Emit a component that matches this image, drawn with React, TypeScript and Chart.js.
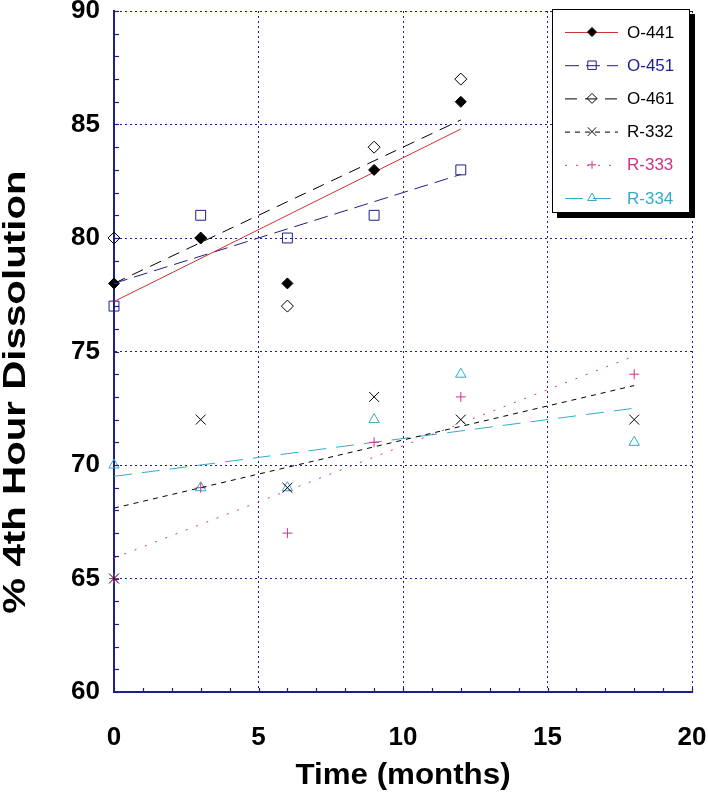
import React, { useEffect, useRef } from 'react';
import { Chart, registerables } from 'chart.js';
import { drawPoint } from 'chart.js/helpers';
Chart.register(...registerables);

// ---- data ----
const oMonths = [0, 3, 6, 9, 12];
const rMonths = [0, 3, 6, 9, 12, 18];
const o441 = [78, 80, 78, 83, 86];
const o451 = [77, 81, 80, 81, 83];
const o461 = [80, 80, 77, 84, 87];
const r332 = [65, 72, 69, 73, 72, 72];
const r333 = [65, 69, 67, 71, 73, 74];
const r334 = [70, 69, 69, 72, 74, 71];
// fitted trend lines (end points)
const oFitMonths = [0, 12];
const rFitMonths = [0, 18];
const o441Fit = [77.2, 84.8];
const o451Fit = [78.0, 82.8];
const o461Fit = [78.0, 85.2];
const r332Fit = [68.1, 73.5];
const r333Fit = [65.9, 74.8];
const r334Fit = [69.5, 72.5];
const seriesNames = ['O-441', 'O-451', 'O-461', 'R-332', 'R-333', 'R-334'];
const xTitle = 'Time (months)';
const yTitle = '% 4th Hour Dissolution';
const xRange = [0, 20];
const yRange = [60, 90];

const NAVY = '#1e1e8c';
const MAGENTA = '#cc3388';
const CYAN = '#35aacb';
const FONT = '"Liberation Sans", Arial, sans-serif';

const styles = [
  { color: '#000', line: '#cc3333', dash: [], pointStyle: 'rectRot', radius: 5.5, fill: '#000', textColor: '#000' },
  { color: NAVY, line: NAVY, dash: [14, 7], pointStyle: 'rect', radius: 7, fill: 'rgba(0,0,0,0)', textColor: NAVY },
  { color: '#000', line: '#000', dash: [12, 8], pointStyle: 'rectRot', radius: 6, fill: 'rgba(0,0,0,0)', textColor: '#000' },
  { color: '#000', line: '#000', dash: [5, 5], pointStyle: 'crossRot', radius: 7, fill: 'rgba(0,0,0,0)', textColor: '#000' },
  { color: MAGENTA, line: MAGENTA, dash: [2, 9], pointStyle: 'cross', radius: 5, fill: 'rgba(0,0,0,0)', textColor: MAGENTA },
  { color: CYAN, line: CYAN, dash: [18, 10], pointStyle: 'triangle', radius: 6, fill: 'rgba(0,0,0,0)', textColor: CYAN },
];

const pts = (xs: number[], ys: number[]) => xs.map((x, i) => ({ x, y: ys[i] }));

const seriesData = [
  pts(oMonths, o441), pts(oMonths, o451), pts(oMonths, o461),
  pts(rMonths, r332), pts(rMonths, r333), pts(rMonths, r334),
];
const fitData = [
  pts(oFitMonths, o441Fit), pts(oFitMonths, o451Fit), pts(oFitMonths, o461Fit),
  pts(rFitMonths, r332Fit), pts(rFitMonths, r333Fit), pts(rFitMonths, r334Fit),
];

const minorTicks = {
  id: 'minorTicks',
  afterDraw(chart: any) {
    const { ctx, chartArea, scales } = chart;
    ctx.save();
    ctx.strokeStyle = NAVY;
    ctx.lineWidth = 1.2;
    for (let v = yRange[0]; v <= yRange[1]; v++) {
      const y = Math.round(scales.y.getPixelForValue(v)) + 0.5;
      ctx.beginPath();
      ctx.moveTo(chartArea.left, y);
      ctx.lineTo(chartArea.left + 5, y);
      ctx.stroke();
    }
    for (let v = xRange[0]; v <= xRange[1]; v++) {
      const x = Math.round(scales.x.getPixelForValue(v)) + 0.5;
      ctx.beginPath();
      ctx.moveTo(x, chartArea.bottom);
      ctx.lineTo(x, chartArea.bottom - 4);
      ctx.stroke();
    }
    ctx.restore();
  },
};

const axisTitles = {
  id: 'axisTitles',
  afterDraw(chart: any) {
    const { ctx, chartArea } = chart;
    ctx.save();
    ctx.fillStyle = '#000';
    ctx.textAlign = 'center';
    ctx.textBaseline = 'middle';
    // x title
    ctx.save();
    ctx.translate((chartArea.left + chartArea.right) / 2, 776);
    ctx.scale(1.08, 1);
    ctx.font = `bold 29px ${FONT}`;
    ctx.fillText(xTitle, 0, 0);
    ctx.restore();
    // y title
    ctx.save();
    ctx.translate(16, 392);
    ctx.rotate(-Math.PI / 2);
    ctx.scale(1.3, 1);
    ctx.font = `bold 31px ${FONT}`;
    ctx.fillText(yTitle, 0, 0);
    ctx.restore();
    ctx.restore();
  },
};

const boxLegend = {
  id: 'boxLegend',
  afterDraw(chart: any) {
    const ctx = chart.ctx;
    const L = 552, T = 9, R = 690, B = 213;
    ctx.save();
    ctx.fillStyle = '#000';
    ctx.fillRect(L + 5, T + 5, R - L, B - T);
    ctx.fillStyle = '#fff';
    ctx.fillRect(L, T, R - L, B - T);
    ctx.strokeStyle = '#000';
    ctx.lineWidth = 1;
    ctx.strokeRect(L + 0.5, T + 0.5, R - L - 1, B - T - 1);
    seriesNames.forEach((name, i) => {
      const s = styles[i];
      const y = 32 + i * 33.2;
      ctx.save();
      ctx.strokeStyle = s.line;
      ctx.lineWidth = 1;
      ctx.setLineDash(s.dash);
      ctx.beginPath();
      ctx.moveTo(565, y + 0.5);
      ctx.lineTo(618, y + 0.5);
      ctx.stroke();
      ctx.setLineDash([]);
      ctx.strokeStyle = s.color;
      ctx.fillStyle = s.fill;
      drawPoint(ctx, { pointStyle: s.pointStyle, radius: s.radius - 1, rotation: 0, borderWidth: 1 } as any, 592, y);
      ctx.restore();
      ctx.fillStyle = s.textColor;
      ctx.font = `17px ${FONT}`;
      ctx.textBaseline = 'middle';
      ctx.textAlign = 'left';
      ctx.fillText(name, 627, y + 1);
    });
    ctx.restore();
  },
};

export default function App() {
  const ref = useRef<HTMLCanvasElement>(null);
  useEffect(() => {
    document.body.style.margin = '0';
    const datasets: any[] = [];
    styles.forEach((s, i) => {
      datasets.push({
        label: seriesNames[i],
        data: seriesData[i],
        showLine: false,
        clip: false,
        pointStyle: s.pointStyle,
        pointRadius: s.radius,
        pointBorderColor: s.color,
        pointBackgroundColor: s.fill,
        pointBorderWidth: 1,
        borderColor: s.color,
        backgroundColor: s.fill,
      });
      datasets.push({
        label: seriesNames[i] + ' fit',
        data: fitData[i],
        showLine: true,
        pointRadius: 0,
        borderColor: s.line,
        borderWidth: 1,
        borderDash: s.dash,
        fill: false,
      });
    });
    const tickFont = { family: FONT, size: 26, weight: 'bold' as const };
    const chart = new Chart(ref.current!, {
      type: 'scatter',
      data: { datasets },
      options: {
        animation: false,
        responsive: false,
        devicePixelRatio: 1,
        layout: { padding: { top: 11, right: 16, left: 0, bottom: 0 } },
        plugins: { legend: { display: false }, tooltip: { enabled: false } },
        scales: {
          x: {
            type: 'linear',
            min: xRange[0],
            max: xRange[1],
            ticks: { stepSize: 5, font: tickFont, color: '#000', padding: 30 },
            grid: { color: NAVY, lineWidth: 1, drawTicks: false },
            border: { color: NAVY, width: 2, dash: [2, 3] },
            title: { display: false },
            afterFit: (s: any) => { s.height = 101; s.paddingLeft = 0; s.paddingRight = 0; },
          },
          y: {
            type: 'linear',
            min: yRange[0],
            max: yRange[1],
            ticks: { stepSize: 5, font: tickFont, color: '#000', padding: 14 },
            grid: { color: NAVY, lineWidth: 1, drawTicks: false },
            border: { color: NAVY, width: 2, dash: [2, 3] },
            title: { display: false },
            afterFit: (s: any) => { s.width = 114; s.paddingTop = 0; s.paddingBottom = 0; },
          },
        },
      },
      plugins: [minorTicks, axisTitles, boxLegend],
    });
    return () => chart.destroy();
  }, []);
  return (
    <div style={{ width: 708, height: 793, position: 'relative', background: '#fff' }}>
      <canvas ref={ref} width={708} height={793} style={{ width: 708, height: 793 }} />
    </div>
  );
}
